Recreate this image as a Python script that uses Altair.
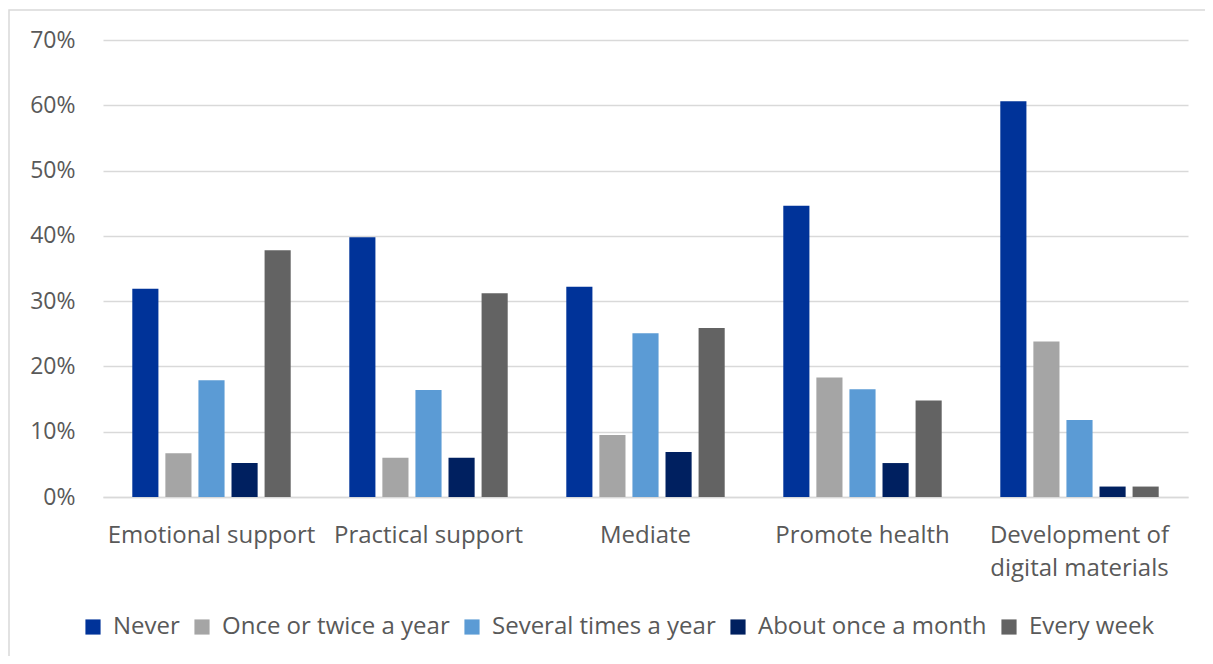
import altair as alt
import pandas as pd

categories = ["Emotional support", "Practical support", "Mediate", "Promote health",
              "Development of digital materials"]
series = ["Never", "Once or twice a year", "Several times a year", "About once a month", "Every week"]
colors = ["#003399", "#A5A5A5", "#5B9BD5", "#002060", "#636363"]

never = [0.319, 0.398, 0.322, 0.446, 0.606]
once_twice = [0.067, 0.060, 0.095, 0.183, 0.238]
several = [0.179, 0.164, 0.251, 0.165, 0.118]
monthly = [0.052, 0.060, 0.069, 0.052, 0.016]
weekly = [0.378, 0.312, 0.259, 0.148, 0.016]

vals = [never, once_twice, several, monthly, weekly]
rows = []
for s, v in zip(series, vals):
    for c, x in zip(categories, v):
        rows.append({"Category": c, "Series": s, "Value": x})
df = pd.DataFrame(rows)

FONT = "Open Sans"
TXT = "#595959"

frame = alt.Chart(pd.DataFrame({"a": [0]})).mark_rect(
    fill=None, stroke="#D9D9D9", strokeWidth=1.5
).encode(x=alt.value(-94), x2=alt.value(1200), y=alt.value(-30), y2=alt.value(700))

bars = alt.Chart(df).mark_bar().encode(
    x=alt.X("Category:N", sort=categories, title=None,
            scale=alt.Scale(paddingInner=0.27, paddingOuter=0.135),
            axis=alt.Axis(labelAngle=0, labelFontSize=24, labelColor=TXT, labelFont=FONT,
                          labelPadding=26, ticks=False, domain=True, domainColor="#D9D9D9",
                          domainWidth=1.5, labelLimit=300, labelLineHeight=33,
                          labelExpr="datum.value == 'Development of digital materials' ? ['Development of', 'digital materials'] : datum.label")),
    xOffset=alt.XOffset("Series:N", sort=series, scale=alt.Scale(paddingInner=0.21)),
    y=alt.Y("Value:Q", title=None,
            scale=alt.Scale(domain=[0, 0.7]),
            axis=alt.Axis(format=".0%", values=[0, 0.1, 0.2, 0.3, 0.4, 0.5, 0.6, 0.7],
                          labelFontSize=23, labelColor=TXT, labelFont=FONT, labelPadding=28,
                          ticks=False, domain=False, gridColor="#D9D9D9", gridWidth=1.5)),
    color=alt.Color("Series:N", sort=series,
                    scale=alt.Scale(domain=series, range=colors),
                    legend=alt.Legend(title=None, orient="none", direction="horizontal",
                                      legendX=-22, legendY=575, symbolType="square",
                                      symbolSize=230, symbolStrokeWidth=0,
                                      labelFontSize=24, labelColor=TXT, labelFont=FONT,
                                      labelOffset=8, columnPadding=10, labelLimit=400)),
)

chart = alt.layer(frame, bars).properties(
    width=1085, height=457,
    autosize=alt.AutoSizeParams(type="none"),
    padding={"left": 95, "top": 32, "right": 17, "bottom": 159},
).configure(background="white").configure_view(stroke=None)

chart.save("out.html", embed_options={"renderer": "svg", "actions": False})
